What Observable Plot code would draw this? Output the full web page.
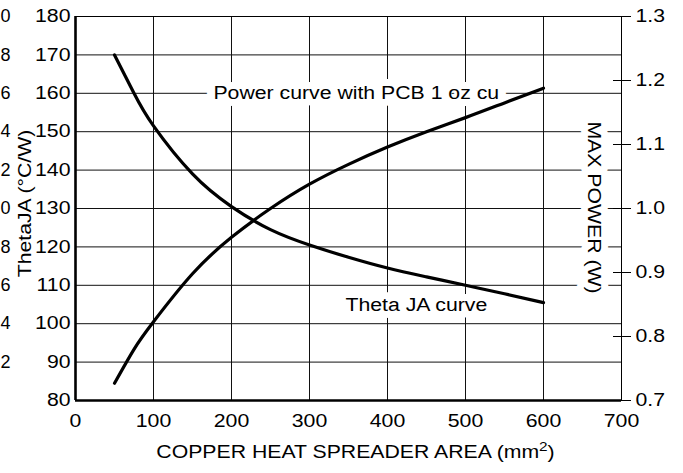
<!DOCTYPE html>
<html><head><meta charset="utf-8">
<script src="https://cdn.jsdelivr.net/npm/d3@7"></script>
<script src="https://cdn.jsdelivr.net/npm/@observablehq/plot@0.6"></script>
<style>body{margin:0;background:#fff;overflow:hidden;}</style>
</head><body><div id="chart"></div>
<script>
// Data
const areaX    = [50, 75, 100, 150, 200, 250, 300, 350, 400, 450, 500, 550, 600];
const thetaJA  = [170, 160, 151.5, 139, 130.5, 124.5, 120.5, 117.3, 114.5, 112.2, 110, 107.8, 105.5];
const maxPower = [0.727, 0.78, 0.823, 0.898, 0.955, 1.0, 1.038, 1.069, 1.096, 1.12, 1.142, 1.165, 1.188];

const xTicks = [0, 100, 200, 300, 400, 500, 600, 700];
const thetaTicks = [80, 90, 100, 110, 120, 130, 140, 150, 160, 170, 180];
const powerTicks = [0.7, 0.8, 0.9, 1.0, 1.1, 1.2, 1.3];
// digits of a neighbouring axis, cut by the left edge of the picture
const cutTicks = [90, 100, 110, 120, 130, 140, 150, 160, 170, 180];
const cutLabels = ["2", "4", "6", "8", "0", "2", "4", "6", "8", "0"];

const yLabel = "ThetaJA (°C/W)";
const y2Label = "MAX POWER (W)";
const xLabel = "COPPER HEAT SPREADER AREA (mm2)";
const powerNote = "Power curve with PCB 1 oz cu";
const thetaNote = "Theta JA curve";

// map power (W) onto the left (°C/W) scale: 0.7..1.3 -> 80..180
const toLeft = p => Math.round((80 + (p - 0.7) / 0.6 * 100) * 1e6) / 1e6;
const fromLeft = v => 0.7 + (v - 80) * 0.006;

const thetaData = areaX.map((x, i) => ({x, y: thetaJA[i]}));
const powerData = areaX.map((x, i) => ({x, y: toLeft(maxPower[i])}));

const ink = "#000";
const halo = {stroke: "white", strokeWidth: 14, paintOrder: "stroke", strokeLinejoin: "round", fill: ink};

const chart = Plot.plot({
  width: 683, height: 473,
  marginLeft: 75, marginRight: 62, marginTop: 16, marginBottom: 73,
  style: {fontFamily: "'Liberation Sans', Arial, sans-serif", fontSize: "18px", color: ink, background: "white"},
  x: {domain: [0, 700]},
  y: {domain: [80, 180]},
  marks: [
    Plot.gridX(xTicks.slice(1, -1), {stroke: "#111", strokeOpacity: 1, strokeWidth: 1}),
    Plot.gridY(thetaTicks.slice(1, -1), {stroke: "#111", strokeOpacity: 1, strokeWidth: 1}),
    Plot.axisX(xTicks, {tickSize: 0, tickPadding: 14, label: null}),
    Plot.axisY(thetaTicks, {anchor: "left", tickSize: 0, tickPadding: 5, label: null}),
    Plot.axisY(cutTicks, {anchor: "left", tickSize: 0, tickPadding: 65, label: null, className: "cut",
      tickFormat: d => cutLabels[cutTicks.indexOf(d)]}),
    Plot.axisY(powerTicks.map(toLeft), {anchor: "right", tickSize: 18, dx: -9, tickPadding: 5, label: null,
      tickFormat: d => fromLeft(d).toFixed(1)}),
    Plot.text([powerNote], {x: 360, y: 160, text: d => d, ...halo}),
    Plot.text([thetaNote], {x: 437, y: 104.8, text: d => d, ...halo}),
    Plot.text([y2Label], {frameAnchor: "right", textAnchor: "middle", rotate: 90, dx: -28, dy: -1, text: d => d, ...halo}),
    Plot.text([yLabel], {frameAnchor: "left", textAnchor: "middle", rotate: -90, dx: -50, dy: -5, text: d => d, fill: ink}),
    Plot.text([xLabel], {frameAnchor: "bottom", dy: 57, dx: 7, text: d => d, fill: ink, className: "xlab"}),
    Plot.line(thetaData, {x: "x", y: "y", stroke: ink, strokeWidth: 3.2, curve: "natural"}),
    Plot.line(powerData, {x: "x", y: "y", stroke: ink, strokeWidth: 3.2, curve: "natural"}),
    Plot.ruleX([700], {stroke: ink, strokeWidth: 1}),
    Plot.ruleY([180], {stroke: ink, strokeWidth: 1}),
    Plot.ruleX([0], {stroke: ink, strokeWidth: 2.6}),
    Plot.ruleY([80], {stroke: ink, strokeWidth: 2.6})
  ]
});
document.getElementById("chart").append(chart);

// superscript "2" in the x-axis title
const xl = chart.querySelector(".xlab text");
if (xl) {
  const s = xl.textContent;
  xl.textContent = s.slice(0, -2);
  const sup = document.createElementNS("http://www.w3.org/2000/svg", "tspan");
  sup.setAttribute("baseline-shift", "super");
  sup.setAttribute("font-size", "13px");
  sup.textContent = s.slice(-2, -1);
  const close = document.createElementNS("http://www.w3.org/2000/svg", "tspan");
  close.textContent = s.slice(-1);
  xl.append(sup, close);
}

// the reference typeface is set wide: stretch each text along its baseline
chart.querySelectorAll("text").forEach(t => {
  if (t.closest(".cut")) return;
  const tr = t.getAttribute("transform") || "";
  if (tr.includes("rotate")) {
    t.setAttribute("transform", tr + " scale(1.18,1)");
  } else {
    const L = t.getComputedTextLength();
    if (L > 0) {
      t.setAttribute("textLength", (L * 1.18).toFixed(1));
      t.setAttribute("lengthAdjust", "spacingAndGlyphs");
    }
  }
});
</script>
</body></html>
